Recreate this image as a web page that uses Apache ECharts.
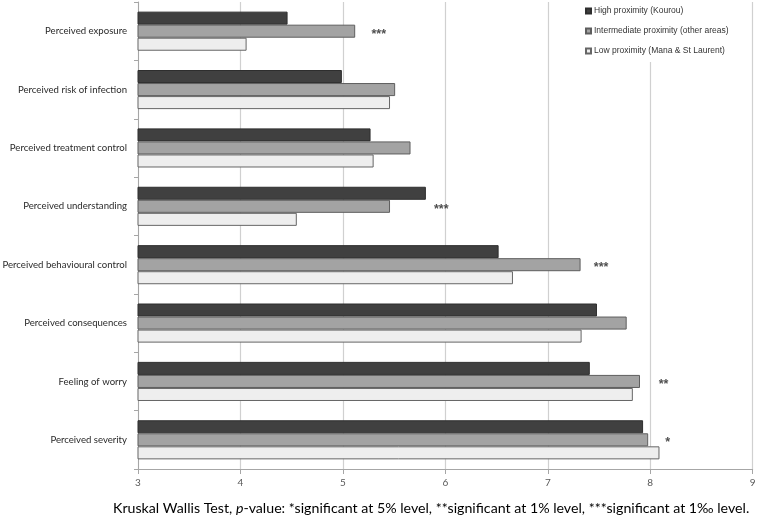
<!DOCTYPE html>
<html>
<head>
<meta charset="utf-8">
<script src="https://cdn.jsdelivr.net/npm/echarts@6/dist/echarts.min.js"></script>
<style>
html,body{margin:0;padding:0;background:#fff;}
#chart{width:757px;height:517px;}
</style>
</head>
<body>
<div id="chart"></div>
<script>
const categories = [
  'Perceived exposure',
  'Perceived risk of infection',
  'Perceived treatment control',
  'Perceived understanding',
  'Perceived behavioural control',
  'Perceived consequences',
  'Feeling of worry',
  'Perceived severity'
];
const seriesNames = [
  'High proximity (Kourou)',
  'Intermediate proximity (other areas)',
  'Low proximity (Mana & St Laurent)'
];
const highValues = [4.46, 4.99, 5.27, 5.81, 6.52, 7.48, 7.41, 7.93];
const intermediateValues = [5.12, 5.51, 5.66, 5.46, 7.32, 7.77, 7.90, 7.98];
const lowValues = [4.06, 5.46, 5.30, 4.55, 6.66, 7.33, 7.83, 8.09];
const significance = ['***', '', '', '***', '***', '', '**', '*'];
const significanceX = [5.35, null, null, 5.96, 7.52, null, 8.13, 8.17];
const xTicks = [3, 4, 5, 6, 7, 8, 9];
const footnoteParts = ['Kruskal Wallis Test, ', 'p', '-value: *significant at 5% level, **significant at 1% level, ***significant at 1\u2030 level.'];

const starData = [];
significance.forEach((s, i) => {
  if (s) starData.push({ name: s, value: [significanceX[i], categories[i]] });
});

const chart = echarts.init(document.getElementById('chart'), null, { renderer: 'canvas' });
const catFont = 'Lato, "Liberation Sans", sans-serif';

chart.setOption({
  animation: false,
  backgroundColor: '#ffffff',
  grid: { left: 138, right: 4.3, top: 2, bottom: 48, containLabel: false, outerBoundsMode: 'none' },
  title: {
    left: 113,
    top: 501,
    padding: 0,
    text: '{a|' + footnoteParts[0] + '}{i|' + footnoteParts[1] + '}{a|' + footnoteParts[2] + '}',
    textStyle: {
      fontWeight: 'normal',
      rich: {
        a: { fontFamily: catFont, fontSize: 14.2, color: '#000', fontWeight: 'normal' },
        i: { fontFamily: catFont, fontSize: 14.2, color: '#000', fontStyle: 'italic', fontWeight: 'normal' }
      }
    }
  },
  legend: {
    data: seriesNames,
    orient: 'vertical',
    left: 550,
    top: 0,
    padding: [6, 20, 6, 35],
    backgroundColor: '#ffffff',
    itemWidth: 5,
    itemHeight: 5,
    itemGap: 10,
    icon: 'rect',
    textStyle: { fontFamily: '"Liberation Sans", Arial, sans-serif', fontSize: 8.5, color: '#333', lineHeight: 10, padding: [0, 0, 0, -2] }
  },
  xAxis: {
    type: 'value',
    min: xTicks[0],
    max: xTicks[xTicks.length - 1],
    interval: 1,
    axisLine: { show: true, lineStyle: { color: '#a6a6a6', width: 1 } },
    axisTick: { show: true, length: 5, lineStyle: { color: '#a6a6a6' } },
    axisLabel: { color: '#595959', fontSize: 10, fontFamily: catFont, margin: 9 },
    splitLine: { show: true, lineStyle: { color: '#d0d0d0', width: 1.2 } }
  },
  yAxis: {
    type: 'category',
    data: categories,
    inverse: true,
    axisLine: { show: true, lineStyle: { color: '#a6a6a6', width: 1 } },
    axisTick: { show: true, length: 4, inside: false, lineStyle: { color: '#a6a6a6' } },
    axisLabel: { color: '#2a2a2a', fontSize: 9.6, fontFamily: catFont, margin: 11 }
  },
  series: [
    {
      name: seriesNames[0], type: 'bar', data: highValues,
      barGap: '0%', barCategoryGap: '33%',
      itemStyle: { color: '#404040', borderColor: '#2e2e2e', borderWidth: 1 }
    },
    {
      name: seriesNames[1], type: 'bar', data: intermediateValues,
      barGap: '0%', barCategoryGap: '33%',
      itemStyle: { color: '#a3a3a3', borderColor: '#5e5e5e', borderWidth: 1 }
    },
    {
      name: seriesNames[2], type: 'bar', data: lowValues,
      barGap: '0%', barCategoryGap: '33%',
      itemStyle: { color: '#eeeeee', borderColor: '#666666', borderWidth: 1 }
    },
    {
      name: 'significance', type: 'scatter', data: starData,
      symbolSize: 1, itemStyle: { color: 'rgba(0,0,0,0)' },
      label: {
        show: true, position: 'inside', offset: [0, 3],
        formatter: p => p.data.name,
        color: '#222', fontSize: 12.5, fontWeight: 'bold', fontFamily: '"Liberation Sans", Arial, sans-serif'
      },
      z: 5
    }
  ]
});
</script>
</body>
</html>
